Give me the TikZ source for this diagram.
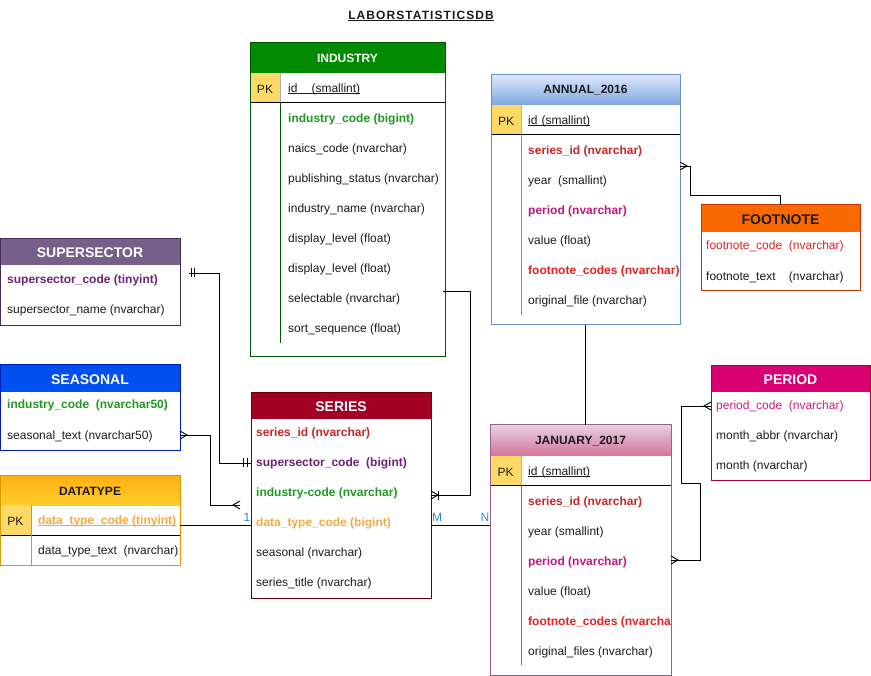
\documentclass[tikz,border=0pt]{standalone}
\usepackage{fontspec}
\setmainfont{Liberation Sans}
\newfontfamily\titlefont[LetterSpace=9]{Liberation Sans}
\usetikzlibrary{calc}
\definecolor{bodytxt}{HTML}{1C1C1C}
\definecolor{pkyel}{HTML}{FFD966}
\definecolor{lblblue}{HTML}{2E86E6}
\definecolor{tgreen}{HTML}{1F9A1F}
\definecolor{tdred}{HTML}{C62828}
\definecolor{tred}{HTML}{E52222}
\definecolor{tmag}{HTML}{C2187C}
\definecolor{tpmag}{HTML}{D01C7A}
\definecolor{tpurple}{HTML}{6E2275}
\definecolor{torange}{HTML}{F6A940}
\definecolor{indstroke}{HTML}{005700}
\definecolor{indhead}{HTML}{008A00}
\definecolor{annstroke}{HTML}{6C8EBF}
\definecolor{anntop}{HTML}{DAE8FC}
\definecolor{annbot}{HTML}{7EA6E0}
\definecolor{fnstroke}{HTML}{C73500}
\definecolor{fnhead}{HTML}{FA6800}
\definecolor{ssstroke}{HTML}{432D57}
\definecolor{sshead}{HTML}{76608A}
\definecolor{seastroke}{HTML}{001DBC}
\definecolor{seahead}{HTML}{0050EF}
\definecolor{dtstroke}{HTML}{D79B00}
\definecolor{dttop}{HTML}{FFB014}
\definecolor{dtbot}{HTML}{FFCD28}
\definecolor{serstroke}{HTML}{6F0000}
\definecolor{serhead}{HTML}{A20025}
\definecolor{janstroke}{HTML}{996185}
\definecolor{jantop}{HTML}{E6D0DE}
\definecolor{janbot}{HTML}{D5739D}
\definecolor{perstroke}{HTML}{A50040}
\definecolor{perhead}{HTML}{D80073}
\newsavebox\ulbox
\newcommand\myul[1]{\sbox\ulbox{#1}\rlap{\rule[-1.8pt]{\wd\ulbox}{0.7pt}}\usebox\ulbox}
\tikzset{
  tframe/.style={draw=#1, line width=1pt, anchor=north west, inner sep=0pt, outer sep=0pt, fill=none},
  rowtxt/.style={anchor=west, inner sep=0pt, yshift=-1pt, text=bodytxt, font=\fontsize{12}{14}\selectfont},
  rowbold/.style={rowtxt, font=\bfseries\fontsize{12}{14}\selectfont, text=#1},
  rowcol/.style={rowtxt, text=#1},
  hdrsmall/.style={inner sep=0pt, yshift=-0.5pt, font=\bfseries\fontsize{12}{14}\selectfont, text=#1},
  hdrbig/.style={inner sep=0pt, yshift=-0.5pt, font=\bfseries\fontsize{14}{16}\selectfont, text=#1},
  pktxt/.style={inner sep=0pt, yshift=-1pt, font=\fontsize{12}{14}\selectfont, text=bodytxt},
  conn/.style={draw=black, line width=0.9pt},
  lbl/.style={inner sep=0pt, text=lblblue, font=\fontsize{12}{14}\selectfont},
  crowfoot/.pic={\draw[conn] (0,-4) -- (7,0) -- (0,4);},
  onebar/.pic={\draw[conn] (0,-4.5) -- (0,4.5);}
}
\begin{document}
\begin{tikzpicture}[x=1pt,y=-1pt]
\useasboundingbox[fill=white] (0,0) rectangle (871,676);

% title
\node[inner sep=0pt, text=bodytxt, font=\titlefont\bfseries\fontsize{12}{14}\selectfont] (title) at (421,16) {\myul{LABORSTATISTICSDB}};

% ---------- INDUSTRY ----------
\fill[white] (250,43) rectangle (445,357);
\fill[indhead] (250,43) rectangle (445,73);
\fill[pkyel] (250,73) rectangle (280,103);
\draw[gray!60, line width=0.6pt] (280,73) -- (280,103);
\draw[line width=1pt] (250,103) -- (445,103);
\draw[indstroke, line width=1pt] (280,103) -- (280,343);
\node[hdrsmall=white] (indT) at (347.5,58) {INDUSTRY};
\node[pktxt] (indPK) at (265,88) {PK};
\node[rowtxt] (ind0) at (288,88) {\myul{id\hspace{14pt}(smallint)}};
\node[rowbold=tgreen] (ind1) at (288,118) {industry\_code (bigint)};
\node[rowtxt] (ind2) at (288,148) {naics\_code (nvarchar)};
\node[rowtxt] (ind3) at (288,178) {publishing\_status (nvarchar)};
\node[rowtxt] (ind4) at (288,208) {industry\_name (nvarchar)};
\node[rowtxt] (ind5) at (288,238) {display\_level (float)};
\node[rowtxt] (ind6) at (288,268) {display\_level (float)};
\node[rowtxt] (ind7) at (288,298) {selectable (nvarchar)};
\node[rowtxt] (ind8) at (288,328) {sort\_sequence (float)};
\node[tframe=indstroke, minimum width=195pt, minimum height=314pt] (industry) at (250,43) {};

% ---------- ANNUAL_2016 ----------
\fill[white] (491,75) rectangle (680,325);
\shade[top color=anntop, bottom color=annbot] (491,75) rectangle (680,105);
\fill[pkyel] (491,105) rectangle (521,135);
\draw[gray!60, line width=0.6pt] (521,105) -- (521,135);
\draw[line width=1pt] (491,135) -- (680,135);
\draw[annstroke, line width=1pt] (521,135) -- (521,315);
\node[hdrsmall=bodytxt] (annT) at (585.5,90) {ANNUAL\_2016};
\node[pktxt] (annPK) at (506,120) {PK};
\node[rowtxt] (ann0) at (528,120) {\myul{id\hspace{4pt}(smallint)}};
\node[rowbold=tdred] (ann1) at (528,150) {series\_id (nvarchar)};
\node[rowtxt] (ann2) at (528,180) {year~~(smallint)};
\node[rowbold=tmag] (ann3) at (528,210) {period (nvarchar)};
\node[rowtxt] (ann4) at (528,240) {value (float)};
\node[rowbold=tred] (ann5) at (528,270) {footnote\_codes (nvarchar)};
\node[rowtxt] (ann6) at (528,300) {original\_file (nvarchar)};
\node[tframe=annstroke, minimum width=189pt, minimum height=250pt] (annual) at (491,75) {};

% ---------- FOOTNOTE ----------
\fill[white] (701,205) rectangle (860,291);
\fill[fnhead] (701,205) rectangle (860,232);
\node[hdrbig=bodytxt] (fnT) at (780.5,219) {FOOTNOTE};
\node[rowcol=tred] (fn1) at (706,245) {footnote\_code~~(nvarchar)};
\node[rowtxt] (fn2) at (706,276) {footnote\_text~~~~(nvarchar)};
\node[tframe=fnstroke, minimum width=159pt, minimum height=86pt] (footnote) at (701,205) {};

% ---------- SUPERSECTOR ----------
\fill[white] (0.5,239) rectangle (180,326);
\fill[sshead] (0.5,239) rectangle (180,265);
\node[hdrbig=white] (ssT) at (90,252) {SUPERSECTOR};
\node[rowbold=tpurple] (ss1) at (7,279) {supersector\_code (tinyint)};
\node[rowtxt] (ss2) at (7,309) {supersector\_name (nvarchar)};
\node[tframe=ssstroke, minimum width=179.5pt, minimum height=87pt] (supersector) at (0.5,239) {};

% ---------- SEASONAL ----------
\fill[white] (0.5,365) rectangle (180,451);
\fill[seahead] (0.5,365) rectangle (180,392);
\node[hdrbig=white] (seaT) at (90,379) {SEASONAL};
\node[rowbold=tgreen] (sea1) at (7,404) {industry\_code~~(nvarchar50)};
\node[rowtxt] (sea2) at (7,435) {seasonal\_text (nvarchar50)};
\node[tframe=seastroke, minimum width=179.5pt, minimum height=86pt] (seasonal) at (0.5,365) {};

% ---------- DATATYPE ----------
\fill[white] (0.5,476) rectangle (180,565);
\shade[top color=dttop, bottom color=dtbot] (0.5,476) rectangle (180,505);
\fill[pkyel] (0.5,505) rectangle (31,535);
\draw[line width=1pt] (0.5,535) -- (180,535);
\draw[dtstroke, line width=1pt] (31,505) -- (31,565);
\node[hdrsmall=bodytxt] (dtT) at (90,491) {DATATYPE};
\node[pktxt] (dtPK) at (15.5,520) {PK};
\node[rowbold=torange] (dt1) at (38,520) {\myul{data\_type\_code (tinyint)}};
\node[rowtxt] (dt2) at (38,550) {data\_type\_text~~(nvarchar)};
\node[tframe=dtstroke, minimum width=179.5pt, minimum height=89pt] (datatype) at (0.5,476) {};

% ---------- SERIES ----------
\fill[white] (251,393) rectangle (431,598);
\fill[serhead] (251,393) rectangle (431,419);
\node[hdrbig=white] (serT) at (341,406) {SERIES};
\node[rowbold=tdred] (ser1) at (256,432) {series\_id (nvarchar)};
\node[rowbold=tpurple] (ser2) at (256,462) {supersector\_code~~(bigint)};
\node[rowbold=tgreen] (ser3) at (256,492) {industry-code (nvarchar)};
\node[rowbold=torange] (ser4) at (256,522) {data\_type\_code (bigint)};
\node[rowtxt] (ser5) at (256,552) {seasonal (nvarchar)};
\node[rowtxt] (ser6) at (256,582) {series\_title (nvarchar)};
\node[tframe=serstroke, minimum width=180pt, minimum height=205pt] (series) at (251,393) {};

% ---------- JANUARY_2017 ----------
\fill[white] (490,425) rectangle (671,675);
\shade[top color=jantop, bottom color=janbot] (490,425) rectangle (671,456);
\fill[pkyel] (490,456) rectangle (521,486);
\draw[gray!60, line width=0.6pt] (521,456) -- (521,486);
\draw[line width=1pt] (490,486) -- (671,486);
\draw[janstroke, line width=1pt] (521,486) -- (521,665);
\node[hdrsmall=bodytxt] (janT) at (580.5,440.5) {JANUARY\_2017};
\node[pktxt] (janPK) at (505.5,471) {PK};
\node[rowtxt] (jan0) at (528,471) {\myul{id\hspace{4pt}(smallint)}};
\node[rowbold=tdred] (jan1) at (528,501) {series\_id (nvarchar)};
\node[rowtxt] (jan2) at (528,531) {year (smallint)};
\node[rowbold=tmag] (jan3) at (528,561) {period (nvarchar)};
\node[rowtxt] (jan4) at (528,591) {value (float)};
\begin{scope}
\clip (490,486) rectangle (671,675);
\node[rowbold=tred] (jan5) at (528,621) {footnote\_codes (nvarchar)};
\end{scope}
\node[rowtxt] (jan6) at (528,651) {original\_files (nvarchar)};
\node[tframe=janstroke, minimum width=181pt, minimum height=250pt] (january) at (490,425) {};

% ---------- PERIOD ----------
\fill[white] (711,366) rectangle (870,481);
\fill[perhead] (711,366) rectangle (870,392);
\node[hdrbig=white] (perT) at (790.5,379) {PERIOD};
\node[rowcol=tpmag] (per1) at (716,405) {period\_code~~(nvarchar)};
\node[rowtxt] (per2) at (716,435) {month\_abbr (nvarchar)};
\node[rowtxt] (per3) at (716,465) {month (nvarchar)};
\node[tframe=perstroke, minimum width=159pt, minimum height=115pt] (period) at (711,366) {};

% ---------- connectors ----------
% SUPERSECTOR - SERIES (one to one)
\coordinate (ssOut) at (189,273);
\draw[conn] (ssOut) -- (219,273) -- (219,463) -- (series.west |- 0,463);
\pic at (191,273) {onebar};
\pic at (194.5,273) {onebar};
\pic at (243.5,463) {onebar};
\pic at (247,463) {onebar};

% SEASONAL - SERIES (many)
\coordinate (seaIn) at (240,505);
\draw[conn] (seasonal.east |- 0,435) -- (210,435) -- (210,505) -- (seaIn);
\pic at (seasonal.east |- 0,435) {crowfoot};
\pic[rotate=180] at (seaIn) {crowfoot};

% DATATYPE - SERIES
\draw[conn] (datatype.east |- 0,525) -- (series.west |- 0,525);
\node[lbl] (l1) at (247,517) {1};

% SERIES - JANUARY_2017
\draw[conn] (series.east |- 0,525) -- (january.west |- 0,525);
\node[lbl] (lM) at (437,517) {M};
\node[lbl] (lN) at (485,517) {N};

% INDUSTRY - SERIES
\coordinate (indOut) at (443,291);
\draw[conn] (indOut) -- (470,291) -- (470,495) -- (series.east |- 0,495);
\pic at (series.east |- 0,495) {crowfoot};
\pic at (438,495) {onebar};

% ANNUAL_2016 - FOOTNOTE
\draw[conn] (annual.east |- 0,166) -- (690,166) -- (690,195) -- (780,195) -- (footnote.north -| 780,0);
\pic at (annual.east |- 0,166) {crowfoot};

% ANNUAL_2016 - JANUARY_2017
\draw[conn] (annual.south -| 585,0) -- (january.north -| 585,0);

% JANUARY_2017 - PERIOD
\draw[conn] (january.east |- 0,560) -- (700,560) -- (700,483) -- (681,483) -- (681,406) -- (period.west |- 0,406);
\pic at (january.east |- 0,560) {crowfoot};
\pic[rotate=180] at (period.west |- 0,406) {crowfoot};
\end{tikzpicture}
\end{document}
